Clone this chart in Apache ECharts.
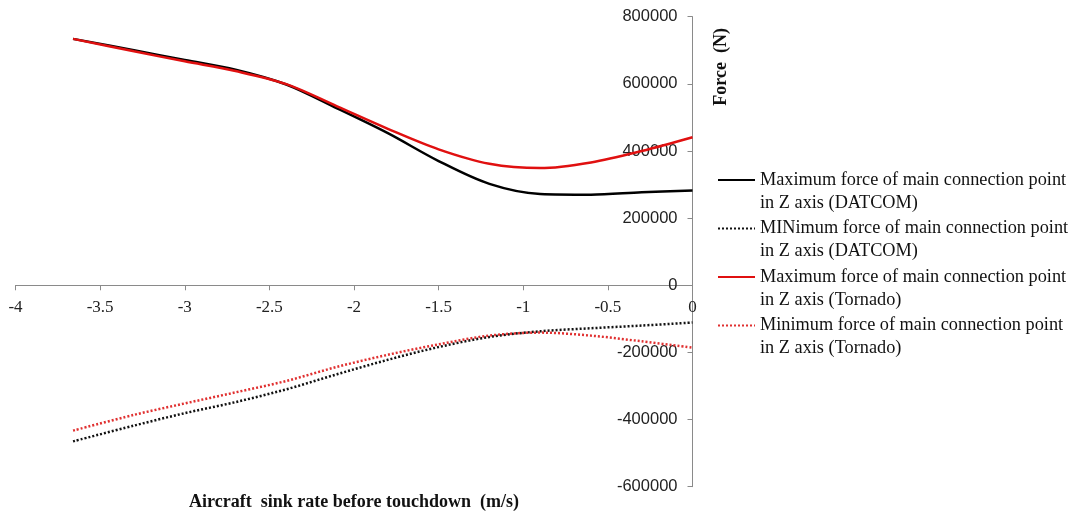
<!DOCTYPE html>
<html><head><meta charset="utf-8">
<script src="https://cdn.jsdelivr.net/npm/echarts@6/dist/echarts.min.js"></script>
<style>html,body{margin:0;padding:0;background:#fff}#c{width:1078px;height:514px}</style>
</head><body><div id="c"></div>
<script>
const seriesNames = [
  "Maximum force of main connection point\nin Z axis (DATCOM)",
  "MINimum force of main connection point\nin Z axis (DATCOM)",
  "Maximum force of main connection point\nin Z axis (Tornado)",
  "Minimum force of main connection point\nin Z axis (Tornado)"
];
const xTicks = [-4, -3.5, -3, -2.5, -2, -1.5, -1, -0.5, 0];
const yTicks = [-600000, -400000, -200000, 0, 200000, 400000, 600000, 800000];
const sinkRate = [-3.66, -3.3, -3.0, -2.7, -2.4, -2.1, -1.8, -1.5, -1.2, -0.9, -0.6, -0.3, 0];
const maxDatcom  = [734000, 700000, 671000, 642000, 598000, 527000, 453000, 370000, 302000, 272000, 270000, 277000, 282000];
const minDatcom  = [-465000, -418000, -381000, -348000, -310000, -265000, -222000, -184000, -154000, -137000, -128000, -120000, -111000];
const maxTornado = [734000, 697000, 667000, 638000, 599000, 533000, 466000, 405000, 362000, 349000, 366000, 400000, 441000];
const minTornado = [-433000, -386000, -352000, -319000, -285000, -243000, -207000, -176000, -150000, -141000, -150000, -167000, -186000];

const chart = echarts.init(document.getElementById('c'), null, {renderer:'canvas'});
const serif = '"Liberation Serif","Times New Roman",serif';
const sans = '"Liberation Sans",Arial,sans-serif';
const gridTop = 16.7, gridBottom = 27.3, H = 514;
const plotH = H - gridTop - gridBottom;
const yMin = yTicks[0], yMax = yTicks[yTicks.length-1];
const zeroOffset = plotH * (0 - yMin) / (yMax - yMin);
function mk(name, vals, color, type){
  return {name, type:'line', data: sinkRate.map((x,i)=>[x, vals[i]]), smooth:0.33, symbol:'none', showSymbol:false,
    lineStyle:{color, width:2.5, type}, itemStyle:{color}};
}
chart.setOption({
  animation:false,
  grid:{left:15.5, right:385.5, top:gridTop, bottom:gridBottom, containLabel:false, outerBoundsMode:'none'},
  xAxis:{type:'value', position:'bottom', offset:-zeroOffset,
    min:xTicks[0], max:xTicks[xTicks.length-1], interval:0.5,
    axisLine:{onZero:false, lineStyle:{color:'#8a8a8a', width:1}},
    axisTick:{show:true, length:5, lineStyle:{color:'#8a8a8a'}},
    splitLine:{show:false},
    axisLabel:{color:'#222', fontFamily:serif, fontSize:17, margin:14},
    name:'Aircraft  sink rate before touchdown  (m/s)', nameLocation:'middle', nameGap:208,
    nameTextStyle:{fontFamily:serif, fontWeight:'bold', fontSize:18, color:'#111'}
  },
  yAxis:{type:'value', position:'right', min:yMin, max:yMax, interval:200000,
    axisLine:{show:true, onZero:false, lineStyle:{color:'#8a8a8a', width:1}},
    axisTick:{show:true, inside:true, length:5, lineStyle:{color:'#8a8a8a'}},
    splitLine:{show:false},
    axisLabel:{inside:true, color:'#222', fontFamily:sans, fontSize:16.5, margin:15, formatter:v=>String(v)}
  },
  legend:{orient:'vertical', left:712, top:140.5, itemWidth:37, itemHeight:14, itemGap:-20.5,
    itemStyle:{opacity:0},
    formatter:name=>'\n'+name,
    textStyle:{fontFamily:serif, fontSize:18.3, color:'#111', lineHeight:23},
    data:seriesNames},
  graphic:[{type:'text', left:712, top:28, rotation:Math.PI/2,
    style:{text:'Force  (N)', font:'bold 18px '+serif, fill:'#111'}}],
  series:[
    mk(seriesNames[0], maxDatcom, '#000000', 'solid'),
    mk(seriesNames[1], minDatcom, '#111111', [2,2]),
    mk(seriesNames[2], maxTornado, '#e01010', 'solid'),
    mk(seriesNames[3], minTornado, '#e03030', [2,2])
  ]
});
</script></body></html>
